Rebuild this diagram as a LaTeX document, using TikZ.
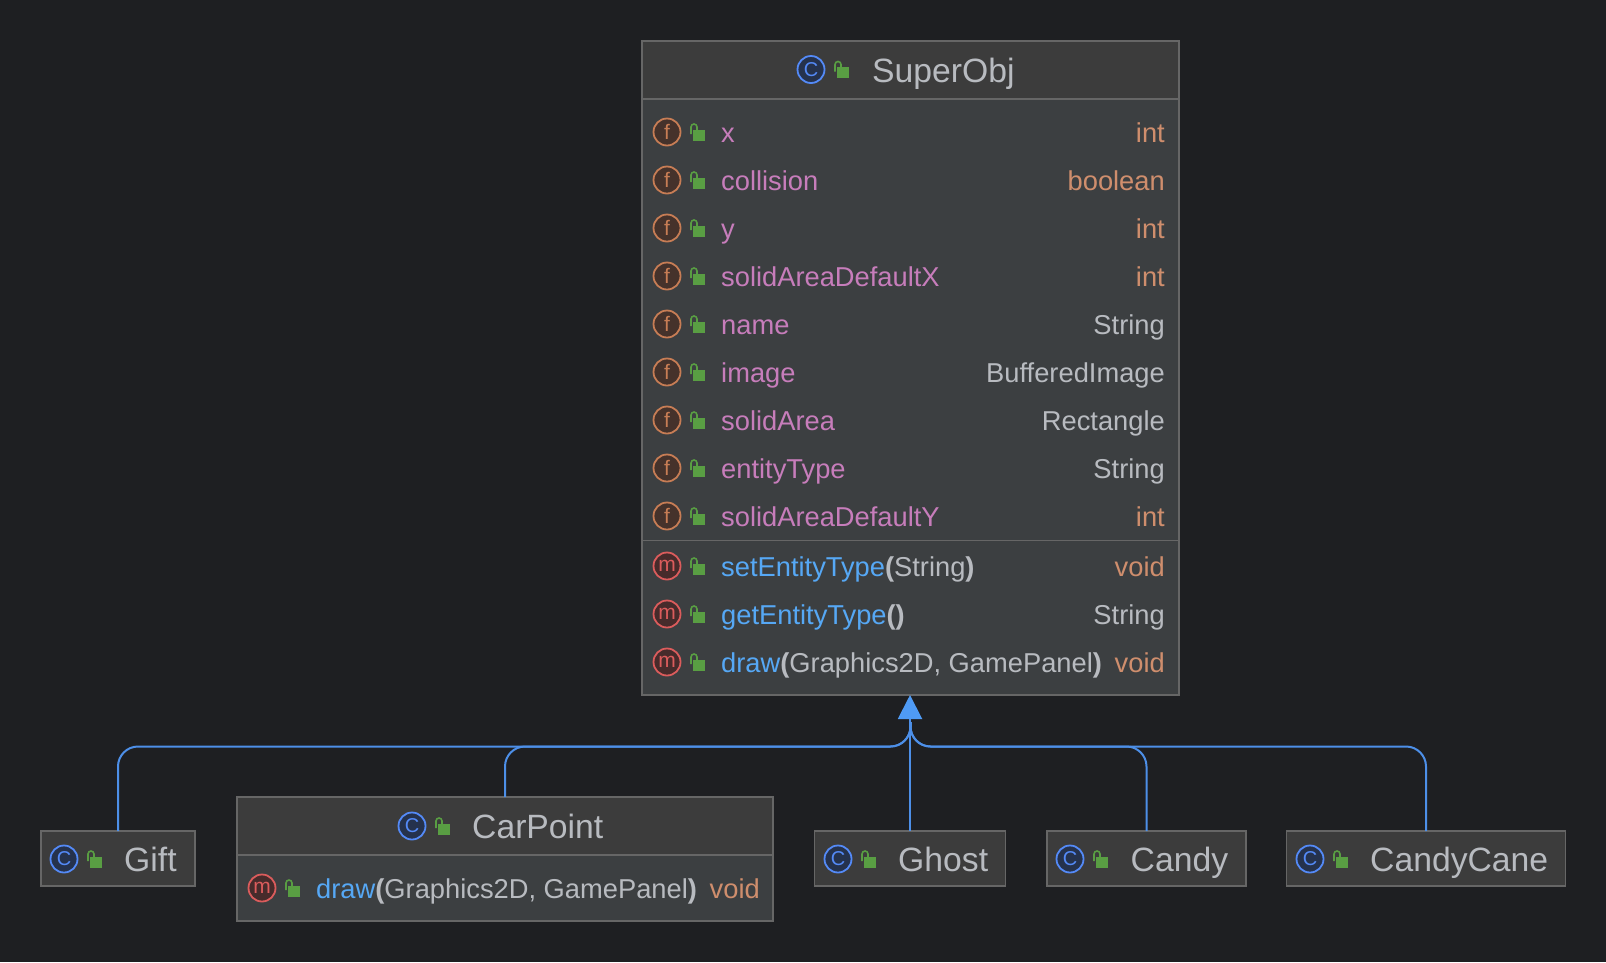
\documentclass[tikz,border=0pt]{standalone}
\usepackage{fontspec}
\setmainfont{Liberation Sans}
\usetikzlibrary{arrows.meta}
\definecolor{bg}{HTML}{1E1F22}
\definecolor{headfill}{HTML}{3C3C3C}
\definecolor{bodyfill}{HTML}{3C3F41}
\definecolor{boxline}{HTML}{666666}
\definecolor{edgeblue}{HTML}{4D8FE8}
\definecolor{tipblue}{HTML}{4F9BF5}
\definecolor{txt}{HTML}{B8BBC0}
\definecolor{fieldc}{HTML}{C77DBB}
\definecolor{typec}{HTML}{CF8E6D}
\definecolor{methc}{HTML}{56A8F5}
\definecolor{lockc}{HTML}{599E43}
\definecolor{cline}{HTML}{548AF7}
\definecolor{cfill}{HTML}{25324D}
\definecolor{fline}{HTML}{C77D55}
\definecolor{ffill}{HTML}{45322B}
\definecolor{mline}{HTML}{DB5C5C}
\definecolor{mfill}{HTML}{472B2B}
\newcommand{\rowfont}{\fontsize{27.3}{30}\selectfont}
\newcommand{\titlefont}{\fontsize{33.7}{36}\selectfont}
\tikzset{
  boxnode/.style={draw=boxline,line width=1.5pt,inner sep=0pt,outer sep=0pt,anchor=north west},
  icon/.style={circle,line width=1.8pt,minimum size=27pt,inner sep=0pt},
  cicon/.style={icon,draw=cline,fill=cfill,text=cline,font=\fontsize{20}{22}\selectfont},
  ficon/.style={icon,draw=fline,fill=ffill,text=fline,font=\fontsize{21}{22}\selectfont},
  micon/.style={icon,draw=mline,fill=mfill,text=mline,font=\fontsize{21}{22}\selectfont},
  tname/.style={anchor=base west,inner sep=0pt},
  ttype/.style={anchor=base east,inner sep=0pt,text=typec},
  divider/.style={draw=boxline,line width=1.5pt},
  edge/.style={draw=edgeblue,line width=2pt,rounded corners=20pt},
  tipedge/.style={draw=edgeblue,line width=2pt,-{Triangle[length=24pt,width=24pt,color=tipblue]}}
}
% lock glyph relative to the centre of the icon
\newcommand{\lockat}[2]{%
  \fill[lockc] (#1+25.5,#2-2.5) rectangle (#1+38,#2+8.5);
  \draw[lockc,line width=1.6pt] (#1+24,#2+2) -- (#1+24,#2-5) arc[start angle=180,end angle=360,x radius=3,y radius=3] -- (#1+30,#2-2);
}
% field row: y, name, type, type colour
\newcommand{\fieldrow}[5][typec]{%
  \node[ficon] (#2i) at (667,#3) {f};
  \lockat{667}{#3}
  \node[tname,text=fieldc,font=\rowfont] (#2n) at (721,#3+10) {#4};
  \node[ttype,text=#1,font=\rowfont] (#2t) at (1165,#3+10) {#5};
}
\newcommand{\methrow}[5][typec]{%
  \node[micon] (#2i) at (667,#3) {m};
  \lockat{667}{#3}
  \node[tname,text=txt,font=\rowfont] (#2n) at (721,#3+10) {#4};
  \node[ttype,text=#1,font=\rowfont] (#2t) at (1165,#3+10) {#5};
}
\newcommand{\mn}[1]{\textcolor{methc}{#1}}
\newcommand{\pb}[1]{\textbf{#1}}
\begin{document}
\begin{tikzpicture}[x=1pt,y=-1pt]
\useasboundingbox[fill=bg] (0,0) rectangle (1606,962);
% SuperObj
\fill[bodyfill] (642,41) rectangle (1179,695);
\fill[headfill] (642,41) rectangle (1179,99);
\node[boxnode,minimum width=537pt,minimum height=654pt] (superobj) at (642,41) {};
\draw[divider] (642,99) -- (1179,99);
\draw[divider] (642,540.5) -- (1179,540.5);
\node[cicon] (superi) at (811,69.5) {C};
\lockat{811}{69.5}
\node[tname,text=txt,font=\titlefont] (supert) at (872,82) {SuperObj};
\fieldrow{fa}{132}{x}{int}
\fieldrow{fb}{180}{collision}{boolean}
\fieldrow{fc}{228}{y}{int}
\fieldrow{fd}{276}{solidAreaDefaultX}{int}
\fieldrow[txt]{fe}{324}{name}{String}
\fieldrow[txt]{ff}{372}{image}{BufferedImage}
\fieldrow[txt]{fg}{420}{solidArea}{Rectangle}
\fieldrow[txt]{fh}{468}{entityType}{String}
\fieldrow{fi}{516}{solidAreaDefaultY}{int}
\methrow{ma}{566}{\mn{setEntityType}\pb{(}String\pb{)}}{void}
\methrow[txt]{mb}{614}{\mn{getEntityType}\pb{()}}{String}
\methrow{mc}{662}{\mn{draw}\pb{(}Graphics2D, GamePanel\pb{)}}{void}
% Gift
\node[boxnode,fill=headfill,minimum width=154pt,minimum height=55pt] (gift) at (41,831) {};
\node[cicon] (gifti) at (64,859) {C};
\lockat{64}{859}
\node[tname,text=txt,font=\titlefont] (giftt) at (124,871) {Gift};
% CarPoint
\fill[bodyfill] (237,797) rectangle (773,921);
\fill[headfill] (237,797) rectangle (773,855);
\node[boxnode,minimum width=536pt,minimum height=124pt] (carpoint) at (237,797) {};
\draw[divider] (237,855) -- (773,855);
\node[cicon] (cari) at (412,826) {C};
\lockat{412}{826}
\node[tname,text=txt,font=\titlefont] (cart) at (472,838.5) {CarPoint};
\node[micon] (carmi) at (262,888) {m};
\lockat{262}{888}
\node[tname,text=txt,font=\rowfont] (carmn) at (316,898) {\mn{draw}\pb{(}Graphics2D, GamePanel\pb{)}};
\node[ttype,font=\rowfont] (carmt) at (760,898) {void};
% Ghost
\node[boxnode,fill=headfill,minimum width=191pt,minimum height=55pt] (ghost) at (814.5,831) {};
\node[cicon] (ghosti) at (838,859) {C};
\lockat{838}{859}
\node[tname,text=txt,font=\titlefont] (ghostt) at (898,871) {Ghost};
% Candy
\node[boxnode,fill=headfill,minimum width=199pt,minimum height=55pt] (candy) at (1047,831) {};
\node[cicon] (candyi) at (1070,859) {C};
\lockat{1070}{859}
\node[tname,text=txt,font=\titlefont] (candyt) at (1130.5,871) {Candy};
% CandyCane
\node[boxnode,fill=headfill,minimum width=279pt,minimum height=55pt] (cane) at (1286.5,831) {};
\node[cicon] (canei) at (1310,859) {C};
\lockat{1310}{859}
\node[tname,text=txt,font=\titlefont] (canet) at (1370,871) {CandyCane};
% connectors
\coordinate (bus) at (superobj.south |- 0,746.5);
\coordinate (stem) at (superobj.south |- 0,722);
\draw[edge] (gift.north) |- (bus) -- (stem);
\draw[edge] (carpoint.north) |- (bus) -- (stem);
\draw[edge] (candy.north) |- (bus) -- (stem);
\draw[edge] (cane.north) |- (bus) -- (stem);
\draw[tipedge] (ghost.north) -- (ghost.north |- superobj.south);
\end{tikzpicture}
\end{document}
